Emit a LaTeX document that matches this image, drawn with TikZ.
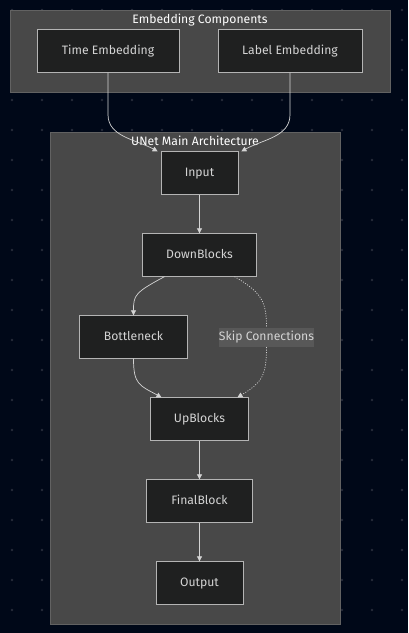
\documentclass[tikz,border=0pt]{standalone}
\usepackage{fontspec}
\setmainfont{Fira Sans}
\usetikzlibrary{arrows.meta}

\definecolor{bgnavy}{HTML}{000818}
\definecolor{griddot}{HTML}{262C3A}
\definecolor{clusterfill}{HTML}{484848}
\definecolor{clusterline}{HTML}{626262}
\definecolor{boxfill}{HTML}{1F2020}
\definecolor{boxline}{HTML}{B4B4B4}
\definecolor{inktext}{HTML}{D4D4D4}
\definecolor{labelfill}{HTML}{585858}

\begin{document}
\begin{tikzpicture}[x=1pt, y=-1pt,
    font=\fontsize{12.2}{14}\selectfont,
    every node/.style={text height=0.72em, text depth=0.12em},
    cluster/.style={fill=clusterfill, draw=clusterline, line width=0.8pt},
    block/.style={rectangle, fill=boxfill, draw=boxline, line width=0.8pt,
        text=inktext, minimum height=42.5pt, inner sep=0pt},
    title/.style={text=white, inner sep=1pt},
    flow/.style={draw=inktext, line width=0.7pt,
        -{Triangle[length=5pt, width=5pt]}},
    skipline/.style={draw=inktext, line width=0.7pt, dash pattern=on 1pt off 1.5pt},
    skip/.style={flow, dash pattern=on 1pt off 1.5pt}]

    \useasboundingbox[fill=bgnavy] (0,0) rectangle (408,633);
    \foreach \gx in {12,42,...,402}
        \foreach \gy in {10,40,...,630}
            \fill[griddot] (\gx,\gy) circle (1.3pt);

    % clusters
    \path[cluster] (10,10) rectangle (390,92);
    \node[title] (embtitle) at (200,20) {Embedding Components};
    \path[cluster] (50,132) rectangle (340.5,624);
    \node[title] (unettitle) at (195,142) {UNet Main Architecture};

    \node[block, minimum width=142pt] (time) at (108,51) {Time Embedding};
    \node[block, minimum width=144pt] (label) at (290,51) {Label Embedding};

    \node[block, minimum width=77pt] (input) at (199.5,173) {Input};
    \node[block, minimum width=114pt] (down) at (199.5,255) {DownBlocks};
    \node[block, minimum width=108pt] (bottle) at (133.5,337) {Bottleneck};
    \node[rectangle, fill=labelfill, text=inktext, inner sep=0pt,
        minimum width=95pt, minimum height=19pt] (skiplabel) at (266.5,337.3) {Skip Connections};
    \node[block, minimum width=98pt] (up) at (199.5,419) {UpBlocks};
    \node[block, minimum width=106pt] (final) at (199.5,501) {FinalBlock};
    \node[block, minimum width=87pt] (output) at (199.5,583) {Output};

    \path[flow] (time.south) -- ++(0,42) .. controls +(0,22) and +(-22,-12) .. ([xshift=-3pt]input.north west);
    \path[flow] (label.south) -- ++(0,42) .. controls +(0,22) and +(22,-12) .. ([xshift=3pt]input.north east);

    \path[flow] (input) -- (down);
    \path[flow] ([xshift=-35pt]down.south) .. controls +(-30,16) and +(0,-20) .. (bottle.north);
    \path[skipline] ([xshift=35pt]down.south) .. controls +(28,16) and +(0,-25) .. (skiplabel.north);
    \path[skip] (skiplabel.south) .. controls +(0,28) and +(25,-15) .. ([xshift=38pt]up.north);
    \path[flow] (bottle.south) .. controls +(0,26) and +(-22,-12) .. ([xshift=-38pt]up.north);
    \path[flow] (up) -- (final);
    \path[flow] (final) -- (output);

\end{tikzpicture}
\end{document}
